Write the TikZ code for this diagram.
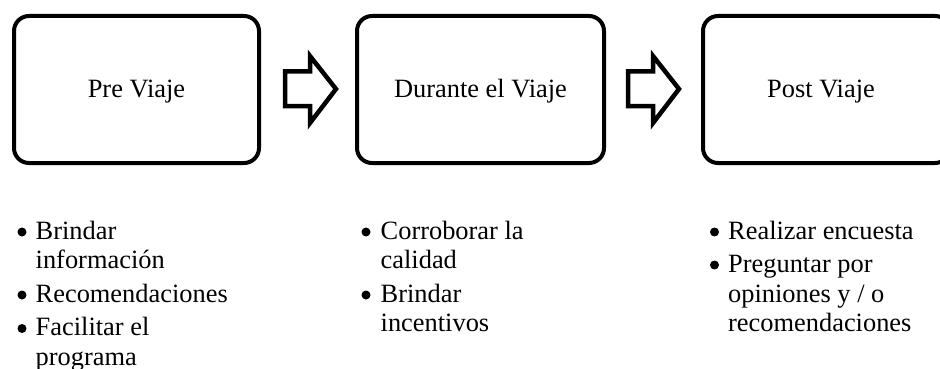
\documentclass[tikz,border=0pt]{standalone}
\usepackage{fontspec}
\setmainfont{Liberation Serif}
\begin{document}
\begin{tikzpicture}[x=1pt,y=-1pt,
  phase/.style={draw=black,line width=4pt,rounded corners=15pt},
  blockarrow/.style={draw=black,line width=4.5pt,miter limit=10,fill=white},
  lbl/.style={font=\fontsize{26.4}{30}\selectfont,inner sep=0pt,anchor=base},
  item/.style={font=\fontsize{26.4}{30}\selectfont,inner sep=0pt,anchor=base west},
  dot/.style={fill=black}]
\useasboundingbox (0,0) rectangle (940,369);
\clip (0,0) rectangle (940,369);
% boxes
\draw[phase] (14,16) rectangle (259,163);
\draw[phase] (357,16) rectangle (604,163);
\draw[phase] (703,16) rectangle (950,163);
\node[lbl] (pre) at (136.5,98) {Pre Viaje};
\node[lbl] (dur) at (480.5,98) {Durante el Viaje};
\node[lbl] (post) at (821,98) {Post Viaje};
% block arrows
\draw[blockarrow] (285,71.5) -- (310,71.5) -- (310,56) -- (336,89) -- (310,123) -- (310,106) -- (285,106) -- cycle;
\draw[blockarrow] (628,71.5) -- (653,71.5) -- (653,56) -- (679,89) -- (653,123) -- (653,106) -- (628,106) -- cycle;
% column 1
\fill[dot] (22,232) circle (4.5);
\node[item] (a1) at (35.5,239) {Brindar};
\node[item] (a2) at (35.5,268.5) {información};
\fill[dot] (22,295) circle (4.5);
\node[item] (a3) at (35.5,302) {Recomendaciones};
\fill[dot] (22,328.5) circle (4.5);
\node[item] (a4) at (35.5,335.5) {Facilitar el};
\node[item] (a5) at (35.5,365) {programa};
% column 2
\fill[dot] (366,232) circle (4.5);
\node[item] (b1) at (380.5,239) {Corroborar la};
\node[item] (b2) at (380.5,268.5) {calidad};
\fill[dot] (366,295) circle (4.5);
\node[item] (b3) at (380.5,302) {Brindar};
\node[item] (b4) at (380.5,331.5) {incentivos};
% column 3
\fill[dot] (714.5,232) circle (4.5);
\node[item] (c1) at (728,239) {Realizar encuesta};
\fill[dot] (714.5,265) circle (4.5);
\node[item] (c2) at (728,272) {Preguntar por};
\node[item] (c3) at (728,302) {opiniones y / o};
\node[item] (c4) at (728,331.5) {recomendaciones};
\end{tikzpicture}
\end{document}
